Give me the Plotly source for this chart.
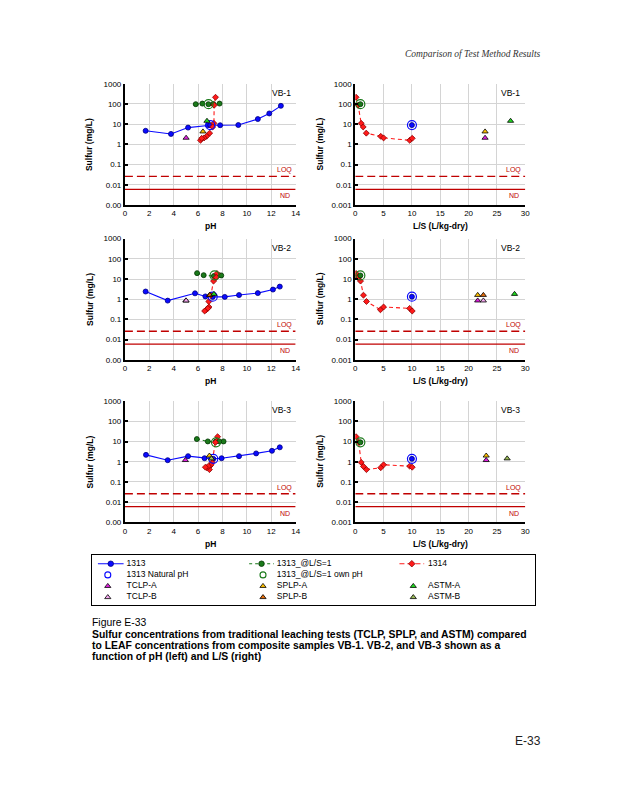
import numpy as np
import plotly.graph_objects as go

W, H = 618, 800

SAMPLES = ['VB-1', 'VB-2', 'VB-3']

# ---- Method 1313 (pH dependence) ----
PH_1313 = {
    'VB-1': [1.70, 3.78, 5.18, 6.80, 7.00, 7.81, 9.30, 10.90, 11.84, 12.79],
    'VB-2': [1.70, 3.51, 5.75, 6.60, 7.20, 8.19, 9.36, 10.90, 12.14, 12.70],
    'VB-3': [1.73, 3.51, 5.18, 6.53, 7.25, 7.93, 9.36, 10.76, 12.06, 12.70],
}
C_1313 = {
    'VB-1': [4.7, 3.3, 6.8, 8.8, 8.9, 8.9, 9.1, 18, 34, 81],
    'VB-2': [2.4, 0.85, 1.95, 1.37, 1.3, 1.3, 1.6, 2.0, 3.0, 4.2],
    'VB-3': [2.2, 1.2, 1.9, 1.5, 1.4, 1.5, 1.9, 2.6, 3.5, 5.2],
}
# 1313 natural pH point
NAT_PH = {'VB-1': 7.00, 'VB-2': 7.20, 'VB-3': 7.25}
NAT_LS = {'VB-1': 10.0, 'VB-2': 10.0, 'VB-3': 10.0}
NAT_C = {'VB-1': 9.0, 'VB-2': 1.33, 'VB-3': 1.4}

# ---- 1313 at L/S = 1 ----
PH_LS1 = {
    'VB-1': [5.81, 6.35, 6.85, 7.25, 7.76],
    'VB-2': [5.92, 6.46, 7.30, 7.70, 7.90],
    'VB-3': [5.90, 6.80, 7.45, 7.74, 8.09],
}
C_LS1 = {
    'VB-1': [98, 105, 98, 100, 105],
    'VB-2': [19.5, 15.5, 14, 15.5, 15],
    'VB-3': [13.3, 10.2, 10, 10.2, 10.2],
}
OWN_PH = {'VB-1': 6.86, 'VB-2': 7.35, 'VB-3': 7.47}
OWN_LS = {'VB-1': 0.9, 'VB-2': 0.9, 'VB-3': 0.9}
OWN_C = {'VB-1': 98, 'VB-2': 15, 'VB-3': 9.2}

# ---- Method 1314 (column) ----
LS_1314 = {
    'VB-1': [0.15, 0.50, 1.05, 1.40, 1.95, 4.50, 5.00, 9.60, 10.05],
    'VB-2': [0.15, 0.50, 0.93, 1.45, 1.98, 4.45, 5.00, 9.60, 10.05],
    'VB-3': [0.15, 0.60, 1.05, 1.45, 1.98, 4.50, 5.00, 9.60, 10.05],
}
PH_1314 = {
    'VB-1': [7.43, 7.32, 7.30, 7.20, 6.95, 6.70, 6.50, 6.20, 6.30],
    'VB-2': [7.55, 7.49, 7.27, 7.05, 6.88, 6.67, 6.89, 6.80, 6.54],
    'VB-3': [7.60, 7.42, 7.15, 6.95, 6.93, 6.72, 7.07, 6.85, 6.60],
}
C_1314 = {
    'VB-1': [215, 87, 11, 7.3, 3.6, 2.5, 2.1, 1.6, 2.0],
    'VB-2': [18.7, 12, 7.9, 1.58, 0.77, 0.30, 0.41, 0.35, 0.26],
    'VB-3': [17.4, 9.2, 0.93, 0.59, 0.41, 0.51, 0.71, 0.61, 0.54],
}

# ---- Traditional tests (one value per sample: VB-1, VB-2, VB-3) ----
TEST_NAMES = ['TCLP-A', 'TCLP-B', 'SPLP-A', 'SPLP-B', 'ASTM-A', 'ASTM-B']
TEST_PH = {
    'TCLP-A': [5.02, 5.00, 4.96],
    'TCLP-B': [None, 5.02, None],
    'SPLP-A': [6.40, 6.94, 6.93],
    'SPLP-B': [None, 6.97, None],
    'ASTM-A': [6.73, 7.30, None],
    'ASTM-B': [None, None, 7.10],
}
TEST_LS = {
    'TCLP-A': [22.9, 21.6, 23.1],
    'TCLP-B': [None, 22.6, None],
    'SPLP-A': [22.9, 21.6, 23.1],
    'SPLP-B': [None, 22.6, None],
    'ASTM-A': [27.4, 28.1, None],
    'ASTM-B': [None, None, 26.8],
}
TEST_C = {
    'TCLP-A': [2.1, 0.85, 1.2],
    'TCLP-B': [None, 0.85, None],
    'SPLP-A': [4.3, 1.6, 2.0],
    'SPLP-B': [None, 1.6, None],
    'ASTM-A': [14.5, 1.8, None],
    'ASTM-B': [None, None, 1.45],
}

LOQ = 0.026
ND = 0.006

Y_TICKVALS = [0.001, 0.01, 0.1, 1, 10, 100, 1000]
Y_TICKTEXT_LEFT = ['0.00', '0.01', '0.1', '1', '10', '100', '1000']
Y_TICKTEXT_RIGHT = ['0.001', '0.01', '0.1', '1', '10', '100', '1000']

LEGEND_LABELS = ['1313', '1313_@L/S=1', '1314',
                 '1313 Natural pH', '1313_@L/S=1 own pH',
                 'TCLP-A', 'SPLP-A', 'ASTM-A',
                 'TCLP-B', 'SPLP-B', 'ASTM-B']

CAPTION_TITLE = 'Figure E-33'
CAPTION_LINES = [
    'Sulfur concentrations from traditional leaching tests (TCLP, SPLP, and ASTM) compared',
    'to LEAF concentrations from composite samples VB-1. VB-2, and VB-3 shown as a',
    'function of pH (left) and L/S (right)',
]
HEADER = 'Comparison of Test Method Results'
PAGE_NO = 'E-33'

# ---------------- styles ----------------
FONT = 'Liberation Sans, Arial, sans-serif'
BLUE = '#0a0aff'
BLUE_EDGE = '#000080'
GREEN = '#1b7a1b'
GREEN_EDGE = '#003300'
RED = '#ff1a1a'
RED_EDGE = '#8b0000'
DKRED = '#c00000'
GRID = '#d4d4d4'
TEST_COLORS = {
    'TCLP-A': '#e020e0', 'TCLP-B': '#f5a8f0',
    'SPLP-A': '#ffc000', 'SPLP-B': '#e46c0a',
    'ASTM-A': '#22dd22', 'ASTM-B': '#9bbb59',
}
S_CIRCLE, S_DIAMOND, S_TRI, S_OPEN = 5, 4.6, 5.4, 9

# panel pixel boxes
LEFT_X = (124.3, 297.0)
RIGHT_X = (357.3, 529.3)
ROW_Y = [(80.7, 203.3), (237.3, 359.8), (401.7, 524.3)]


def fx(px):
    return px / W


def fy(py):
    return 1 - py / H


def sfx(idx):
    return '' if idx == 1 else str(idx)


fig = go.Figure()


def add(idx, x, y, **kw):
    fig.add_trace(go.Scatter(x=x, y=y, xaxis='x' + sfx(idx), yaxis='y' + sfx(idx),
                             showlegend=False, hoverinfo='skip', **kw))


def circle(size=S_CIRCLE, color=BLUE, edge=BLUE_EDGE):
    return dict(symbol='circle', size=size, color=color, line=dict(color=edge, width=0.8))


def diamond(size=S_DIAMOND):
    return dict(symbol='diamond', size=size, color=RED, line=dict(color=RED_EDGE, width=0.8))


def ring(color, size=S_OPEN):
    return dict(symbol='circle-open', size=size, color=color, line=dict(width=1.2))


layout = dict(width=W, height=H, autosize=False,
              margin=dict(l=0, r=0, t=0, b=0),
              paper_bgcolor='white', plot_bgcolor='white',
              showlegend=False, font=dict(family=FONT, size=8, color='black'))
annotations = []

for i, s in enumerate(SAMPLES):
    yt, yb = ROW_Y[i]
    for side in (0, 1):
        idx = 2 * i + 1 + side
        sx = sfx(idx)
        xl, xr = LEFT_X if side == 0 else RIGHT_X
        xmax = 14 if side == 0 else 30
        layout['xaxis' + sx] = dict(
            domain=[fx(xl), fx(xr)], anchor='y' + sx, range=[0, xmax],
            tickmode='linear', tick0=0, dtick=2 if side == 0 else 5,
            showgrid=True, gridcolor=GRID, gridwidth=1.4,
            showline=True, linecolor='black', linewidth=1.5,
            ticks='', zeroline=False, tickfont=dict(size=8, family=FONT),
            fixedrange=True)
        layout['yaxis' + sx] = dict(
            domain=[fy(yb), fy(yt)], anchor='x' + sx, type='log', range=[-3, 3],
            tickmode='array', tickvals=Y_TICKVALS,
            ticktext=Y_TICKTEXT_LEFT if side == 0 else Y_TICKTEXT_RIGHT,
            showgrid=True, gridcolor=GRID, gridwidth=1.4,
            showline=True, linecolor='black', linewidth=2,
            ticks='inside', ticklen=3, tickwidth=1.5, tickcolor='black',
            zeroline=False, tickfont=dict(size=8, family=FONT), fixedrange=True)

        # LOQ and ND lines
        add(idx, [0, xmax], [LOQ, LOQ], mode='lines',
            line=dict(color=DKRED, width=1.4, dash='8px,4px'))
        add(idx, [0, xmax], [ND, ND], mode='lines', line=dict(color=DKRED, width=1.2))

        if side == 0:
            add(idx, PH_1313[s], C_1313[s], mode='lines+markers',
                line=dict(color=BLUE, width=1.1), marker=circle())
            add(idx, PH_LS1[s], C_LS1[s], mode='lines+markers',
                line=dict(color=GREEN, width=1.1, dash='dot'),
                marker=circle(color=GREEN, edge=GREEN_EDGE))
            add(idx, PH_1314[s], C_1314[s], mode='lines+markers',
                line=dict(color=RED, width=1.1, dash='4px,3px'), marker=diamond())
            add(idx, [NAT_PH[s]], [NAT_C[s]], mode='markers', marker=ring(BLUE))
            add(idx, [OWN_PH[s]], [OWN_C[s]], mode='markers', marker=ring(GREEN))
            tx = TEST_PH
        else:
            add(idx, LS_1314[s], C_1314[s], mode='lines+markers',
                line=dict(color=RED, width=1.1, dash='4px,3px'), marker=diamond())
            add(idx, [OWN_LS[s]], [OWN_C[s]], mode='markers',
                marker=circle(color=GREEN, edge=GREEN_EDGE))
            add(idx, [OWN_LS[s]], [OWN_C[s]], mode='markers', marker=ring(GREEN))
            add(idx, [NAT_LS[s]], [NAT_C[s]], mode='markers', marker=circle())
            add(idx, [NAT_LS[s]], [NAT_C[s]], mode='markers', marker=ring(BLUE))
            tx = TEST_LS
        for t in TEST_NAMES:
            xv, cv = tx[t][i], TEST_C[t][i]
            if xv is None or cv is None:
                continue
            add(idx, [xv], [cv], mode='markers',
                marker=dict(symbol='triangle-up', size=S_TRI, color=TEST_COLORS[t],
                            line=dict(color='black', width=0.8)))

        # panel label
        annotations.append(dict(xref='x' + sx + ' domain', yref='y' + sx + ' domain', x=1, y=1,
                                xanchor='right', yanchor='top', xshift=-3, yshift=-2,
                                text=s, showarrow=False,
                                font=dict(size=8.5, family=FONT, color='black')))
        # LOQ / ND labels
        annotations.append(dict(xref='x' + sx + ' domain', yref='y' + sx, x=1, y=np.log10(LOQ),
                                xanchor='right', yanchor='bottom', xshift=-2, yshift=0,
                                text='LOQ', showarrow=False,
                                font=dict(size=7, family=FONT, color=DKRED)))
        annotations.append(dict(xref='x' + sx + ' domain', yref='y' + sx, x=1, y=np.log10(ND),
                                xanchor='right', yanchor='top', xshift=-4, yshift=-1,
                                text='ND', showarrow=False,
                                font=dict(size=7, family=FONT, color=DKRED)))
        # axis titles
        annotations.append(dict(xref='paper', yref='paper', x=fx(xl - 35.6),
                                y=fy((yt + yb) / 2), xanchor='center', yanchor='middle',
                                textangle=-90, text='<b>Sulfur (mg/L)</b>', showarrow=False,
                                font=dict(size=8.5, family=FONT, color='black')))
        annotations.append(dict(xref='paper', yref='paper', x=fx((xl + xr) / 2),
                                y=fy(yb + 21.5), xanchor='center', yanchor='middle',
                                text='<b>pH</b>' if side == 0 else '<b>L/S (L/kg-dry)</b>',
                                showarrow=False,
                                font=dict(size=8.5, family=FONT, color='black')))

# ---------------- legend box (own subplot) ----------------
LG = 7
layout['xaxis7'] = dict(domain=[fx(91), fx(539)], anchor='y7', range=[0, 448],
                        showline=True, mirror=True, linecolor='black', linewidth=1,
                        showgrid=False, zeroline=False, showticklabels=False,
                        ticks='', fixedrange=True)
layout['yaxis7'] = dict(domain=[fy(607.5), fy(557.5)], anchor='x7', range=[50, 0],
                        showline=True, mirror=True, linecolor='black', linewidth=1,
                        showgrid=False, zeroline=False, showticklabels=False,
                        ticks='', fixedrange=True)

COL_LINE = [(6, 32), (159, 184), (311, 336)]
COL_MARK = [16, 173, 325]
COL_TEXT = [35, 187, 340]
ROW_Y_LG = [8.6, 19.9, 31.2, 42.5]

legend_styles = [
    ('line', BLUE, BLUE_EDGE, 'solid', 'circle'),
    ('line', GREEN, GREEN_EDGE, 'dot', 'circle'),
    ('line', RED, RED_EDGE, '5px,3px', 'diamond'),
    ('open', BLUE, None, None, 'circle-open'),
    ('open', GREEN, None, None, 'circle-open'),
    ('tri', TEST_COLORS['TCLP-A'], 'black', None, 'triangle-up'),
    ('tri', TEST_COLORS['SPLP-A'], 'black', None, 'triangle-up'),
    ('tri', TEST_COLORS['ASTM-A'], 'black', None, 'triangle-up'),
    ('tri', TEST_COLORS['TCLP-B'], 'black', None, 'triangle-up'),
    ('tri', TEST_COLORS['SPLP-B'], 'black', None, 'triangle-up'),
    ('tri', TEST_COLORS['ASTM-B'], 'black', None, 'triangle-up'),
]
grid_pos = [(0, 0), (0, 1), (0, 2), (1, 0), (1, 1), (2, 0), (2, 1), (2, 2),
            (3, 0), (3, 1), (3, 2)]
for label, (kind, col, edge, dash, sym), (r, c) in zip(LEGEND_LABELS, legend_styles, grid_pos):
    ry = ROW_Y_LG[r]
    if kind == 'line':
        x0, x1 = COL_LINE[c]
        add(LG, [x0, x1], [ry, ry], mode='lines', line=dict(color=col, width=1.1, dash=dash))
        add(LG, [(x0 + x1) / 2], [ry], mode='markers',
            marker=dict(symbol=sym, size=5.5 if sym == 'circle' else 5, color=col,
                        line=dict(color=edge, width=0.8)))
    elif kind == 'open':
        add(LG, [COL_MARK[c]], [ry], mode='markers',
            marker=dict(symbol=sym, size=6, color=col, line=dict(width=1.1)))
    else:
        add(LG, [COL_MARK[c]], [ry], mode='markers',
            marker=dict(symbol=sym, size=5.4, color=col, line=dict(color=edge, width=0.8)))
    add(LG, [COL_TEXT[c]], [ry], mode='text', text=[label], textposition='middle right',
        textfont=dict(size=8.5, family=FONT, color='black'))

# ---------------- page texts ----------------
annotations.append(dict(xref='paper', yref='paper', x=fx(547), y=fy(50.7),
                        xanchor='right', yanchor='middle', text=f'<i>{HEADER}</i>',
                        showarrow=False,
                        font=dict(size=9.5, family='Liberation Serif, Times New Roman, serif',
                                  color='#333333')))
annotations.append(dict(xref='paper', yref='paper', x=fx(89.5), y=fy(625.7),
                        xanchor='left', yanchor='middle', text=CAPTION_TITLE,
                        showarrow=False, font=dict(size=10.4, family=FONT, color='black')))
for k, line in enumerate(CAPTION_LINES):
    annotations.append(dict(xref='paper', yref='paper', x=fx(89.5), y=fy(637.8 + 11.2 * k),
                            xanchor='left', yanchor='middle', text=f'<b>{line}</b>',
                            showarrow=False, font=dict(size=10.4, family=FONT, color='black')))
annotations.append(dict(xref='paper', yref='paper', x=fx(547), y=fy(745),
                        xanchor='right', yanchor='middle', text=PAGE_NO,
                        showarrow=False, font=dict(size=12, family=FONT, color='#222222')))

layout['annotations'] = annotations
fig.update_layout(**layout)

fig.write_html("out.html", config={'displayModeBar': False},
               post_script="document.body.style.margin='0';")
